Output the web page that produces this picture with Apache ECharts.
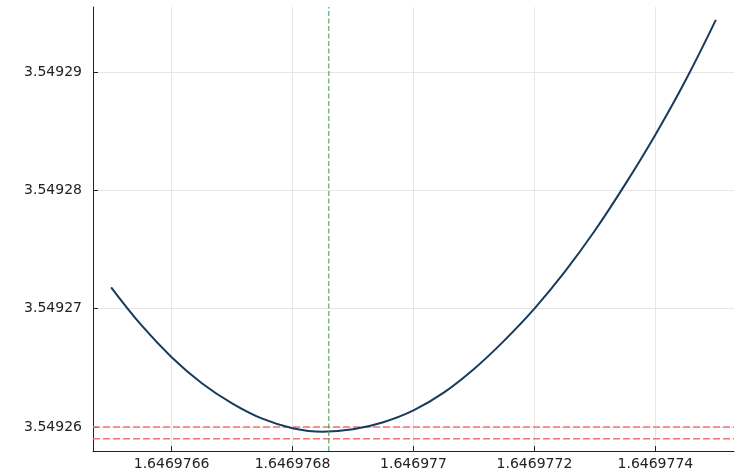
<!DOCTYPE html>
<html><head><meta charset="utf-8">
<script src="https://cdn.jsdelivr.net/npm/echarts@6/dist/echarts.min.js"></script>
<style>html,body{margin:0;padding:0;background:#fff}#c{width:741px;height:475px}</style>
</head><body><div id="c"></div>
<script>
var xValues = [1.6469765, 1.64697655, 1.6469766, 1.64697665, 1.6469767, 1.64697675, 1.6469768,
  1.64697685, 1.6469769, 1.64697695, 1.646977, 1.64697705, 1.6469771, 1.64697715, 1.6469772,
  1.64697725, 1.6469773, 1.64697735, 1.6469774, 1.64697745, 1.6469775];
var yValues = [3.5492718, 3.5492686, 3.5492659, 3.5492637, 3.5492620, 3.5492607, 3.5492599,
  3.5492596, 3.5492598, 3.5492604, 3.5492614, 3.5492629, 3.5492649, 3.5492673, 3.5492700,
  3.5492731, 3.5492766, 3.5492805, 3.5492847, 3.5492893, 3.5492944];
var xTicks = [1.6469766, 1.6469768, 1.646977, 1.6469772, 1.6469774];
var yTicks = [3.54926, 3.54927, 3.54928, 3.54929];
var vLineX = 1.64697686;
var hLinesY = [3.54926, 3.549259];
var xRange = [1.64697647, 1.64697753];
var yRange = [3.54925797, 3.54929549];

var pts = xValues.map(function (x, i) { return [x, yValues[i]]; });
function fmt(v) { return String(parseFloat(Number(v).toFixed(8))); }

var series = [];
hLinesY.forEach(function (y) {
  series.push({
    type: 'line', data: [[xRange[0], y], [xRange[1], y]], showSymbol: false, silent: true,
    lineStyle: {color: '#f37373', type: [7, 3], width: 1.5}, z: 1
  });
});
series.push({
  type: 'line', data: [[vLineX, yRange[0]], [vLineX, yRange[1]]], showSymbol: false, silent: true,
  lineStyle: {color: '#3f9a3f', type: [5, 2.5], width: 1}, z: 3
});
series.push({
  type: 'line', data: pts, showSymbol: false, smooth: 0.4,
  lineStyle: {color: '#173b5e', width: 2}, z: 2
});

var chart = echarts.init(document.getElementById('c'), null, {renderer: 'canvas'});
chart.setOption({
  animation: false,
  grid: {left: 93, top: 7, right: 7, bottom: 24, containLabel: false},
  xAxis: {
    type: 'value', min: xRange[0], max: xRange[1],
    axisLine: {show: true, onZero: false, lineStyle: {color: '#222', width: 1}},
    axisTick: {show: true, inside: true, length: 5, customValues: xTicks, lineStyle: {color: '#222'}},
    axisLabel: {customValues: xTicks, formatter: fmt, color: '#222', fontFamily: 'DejaVu Sans', fontSize: 14, margin: 6},
    splitLine: {show: true, lineStyle: {color: '#e6e6e6', width: 1}}
  },
  yAxis: {
    type: 'value', min: yRange[0], max: yRange[1],
    axisLine: {show: true, onZero: false, lineStyle: {color: '#222', width: 1}},
    axisTick: {show: true, inside: true, length: 5, customValues: yTicks, lineStyle: {color: '#222'}},
    axisLabel: {customValues: yTicks, formatter: fmt, color: '#222', fontFamily: 'DejaVu Sans', fontSize: 14, margin: 11},
    splitLine: {show: true, lineStyle: {color: '#e6e6e6', width: 1}}
  },
  series: series
});
</script></body></html>
